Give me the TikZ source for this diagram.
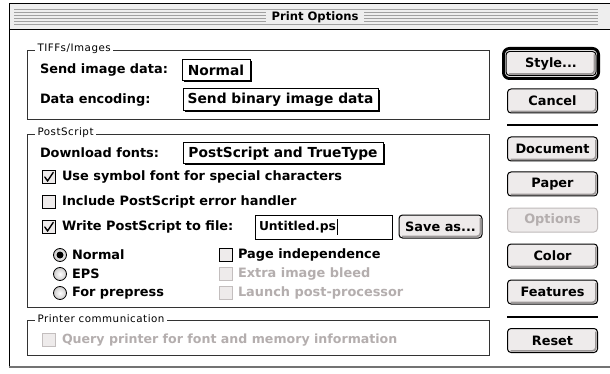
\documentclass[tikz,border=0pt]{standalone}
\usepackage{fontspec}
\setmainfont{DejaVu Sans}
\newfontfamily\grpfont{DejaVu Sans}[LetterSpace=5]
\usetikzlibrary{shadows}
\definecolor{btnfill}{HTML}{EEEBEB}
\definecolor{btnshade}{HTML}{9C9898}
\definecolor{dis}{HTML}{B4AEAE}
\definecolor{titlebg}{HTML}{EEEEEE}
\definecolor{stripe}{HTML}{A0A0A0}
\tikzset{
  every node/.style={inner sep=0pt, outer sep=0pt},
  ctl/.style={font=\bfseries\fontsize{12.9}{15}\selectfont},
  boxtxt/.style={font=\bfseries\fontsize{13.8}{16}\selectfont},
  lbl/.style={ctl, anchor=west},
  dislbl/.style={lbl, text=dis},
  grplbl/.style={font=\grpfont\fontsize{10.3}{12}\selectfont, anchor=west, fill=white, inner xsep=2.5pt},
  grpbox/.style={draw=black!80, line width=0.8pt},
  bevel/.style={path picture={
      \draw[btnshade, line width=1.6pt]
        ([shift={(3pt,1.6pt)}]path picture bounding box.south west) --
        ([shift={(-1.6pt,1.6pt)}]path picture bounding box.south east) --
        ([shift={(-1.6pt,-3pt)}]path picture bounding box.north east);}},
  btn/.style={ctl, draw, line width=1pt, rounded corners=3.5pt, fill=btnfill,
      minimum width=90pt, minimum height=24pt, bevel},
  disbtn/.style={ctl, draw=dis!85, line width=1pt, rounded corners=3.5pt, fill=btnfill,
      minimum width=90pt, minimum height=24pt, text=dis},
  popup/.style={boxtxt, draw, line width=1pt, fill=white, anchor=north west,
      drop shadow={shadow xshift=1.5pt, shadow yshift=-1.5pt, opacity=1, fill=black}},
  field/.style={draw, line width=0.9pt, fill=white, anchor=north west},
  chk/.style={draw, line width=0.9pt, fill=btnfill, minimum size=13pt, anchor=west},
  dischk/.style={chk, draw=dis!80},
  checked/.style={path picture={
      \draw[line width=1.4pt, line cap=round]
        ([shift={(2.8pt,6.5pt)}]path picture bounding box.south west) --
        ([shift={(5.6pt,2.6pt)}]path picture bounding box.south west) --
        ([shift={(11.2pt,11pt)}]path picture bounding box.south west);}},
  radio/.style={circle, draw, line width=0.8pt, inner color=white, outer color=btnfill!70!gray,
      minimum size=13pt},
  radioon/.style={radio, path picture={
      \fill (path picture bounding box.center) circle[radius=3.5pt];}},
}
\begin{document}
\begin{tikzpicture}[x=1pt,y=-1pt]
\useasboundingbox (0,0) rectangle (610,374);
\fill[white] (0,0) rectangle (610,374);
% window
\fill[titlebg] (9,4) rectangle (611,29);
\foreach \yy in {9,12,15,18,21,24} {
  \draw[stripe, line width=0.8pt] (14,\yy) -- (598,\yy);
}
\node[font=\bfseries\fontsize{11.6}{14}\selectfont, fill=titlebg, inner xsep=6pt, minimum height=14pt] (title) at (315,17) {Print Options};
\draw[line width=1pt] (611,4) -- (9,4) -- (9,367);
\draw[line width=1pt] (9,29.5) -- (611,29.5);
\draw[black!55, line width=1.6pt] (9,367) -- (611,367);

% TIFFs/Images group
\draw[grpbox] (27,50) rectangle (489,119);
\node[grplbl] (gtiff) at (35,49) {TIFFs/Images};
\node[lbl] (sendlbl) at (40,70) {Send image data:};
\node[popup, minimum width=68pt, minimum height=21pt] (sendbox) at (182,60) {Normal};
\node[lbl] (enclbl) at (40,100) {Data encoding:};
\node[popup, minimum width=195pt, minimum height=22pt] (encbox) at (183,89) {Send binary image data};

% PostScript group
\draw[grpbox] (27,134) rectangle (489,307);
\node[grplbl] (gps) at (35,133) {PostScript};
\node[lbl] (dllbl) at (40,153) {Download fonts:};
\node[popup, minimum width=200pt, minimum height=21pt] (dlbox) at (183,143) {PostScript and TrueType};

\node[chk, checked] (c1) at (42,177) {};
\node[lbl] (t1) at (62,177) {Use symbol font for special characters};
\node[chk] (c2) at (42,202) {};
\node[lbl] (t2) at (62,202) {Include PostScript error handler};
\node[chk, checked] (c3) at (42,227) {};
\node[lbl] (t3) at (62,227) {Write PostScript to file:};
\node[field, minimum width=137pt, minimum height=24pt] (fname) at (255,215) {};
\node[lbl, font=\bfseries\fontsize{12.3}{15}\selectfont] (fnametxt) at (259,227) {Untitled.ps};
\draw[line width=0.9pt] ([xshift=1.2pt]fnametxt.east |- 0,219) -- ([xshift=1.2pt]fnametxt.east |- 0,235);
\node[btn, minimum width=83pt, minimum height=23pt] (saveas) at (440.5,226.5) {Save as...};

\node[radioon] (r1) at (60,255) {};
\node[lbl] (rt1) at (72,255) {Normal};
\node[radio] (r2) at (60,274) {};
\node[lbl] (rt2) at (72,274) {EPS};
\node[radio] (r3) at (60,293) {};
\node[lbl] (rt3) at (72,293) {For prepress};

\node[chk] (c4) at (219,255) {};
\node[lbl] (t4) at (238,255) {Page independence};
\node[dischk] (c5) at (219,274) {};
\node[dislbl] (t5) at (238,274) {Extra image bleed};
\node[dischk] (c6) at (219,293) {};
\node[dislbl] (t6) at (238,293) {Launch post-processor};

% Printer communication group
\draw[grpbox] (27,320) rectangle (489,355);
\node[grplbl] (gpc) at (35,319) {Printer communication};
\node[dischk] (c7) at (42,340) {};
\node[dislbl, font=\bfseries\fontsize{12.6}{15}\selectfont] (t7) at (62,340) {Query printer for font and memory information};

% buttons
\draw[line width=3pt, rounded corners=6pt] (503.5,48.5) rectangle (598.5,78.5);
\node[btn] (style) at (551,63.5) {Style...};
\node[btn] (cancel) at (552.5,101) {Cancel};
\coordinate (sep1a) at (507,125);
\coordinate (sep1b) at (598,125);
\draw[line width=1.6pt] (sep1a) -- (sep1b);
\node[btn] (doc) at (552.5,149) {Document};
\node[btn] (paper) at (552.5,184) {Paper};
\node[disbtn] (opts) at (552.5,220) {Options};
\node[btn] (color) at (552.5,256) {Color};
\node[btn] (feat) at (552.5,292) {Features};
\coordinate (sep2a) at (507,317);
\coordinate (sep2b) at (598,317);
\draw[line width=1.6pt] (sep2a) -- (sep2b);
\node[btn] (reset) at (552.5,340.5) {Reset};
\end{tikzpicture}
\end{document}
